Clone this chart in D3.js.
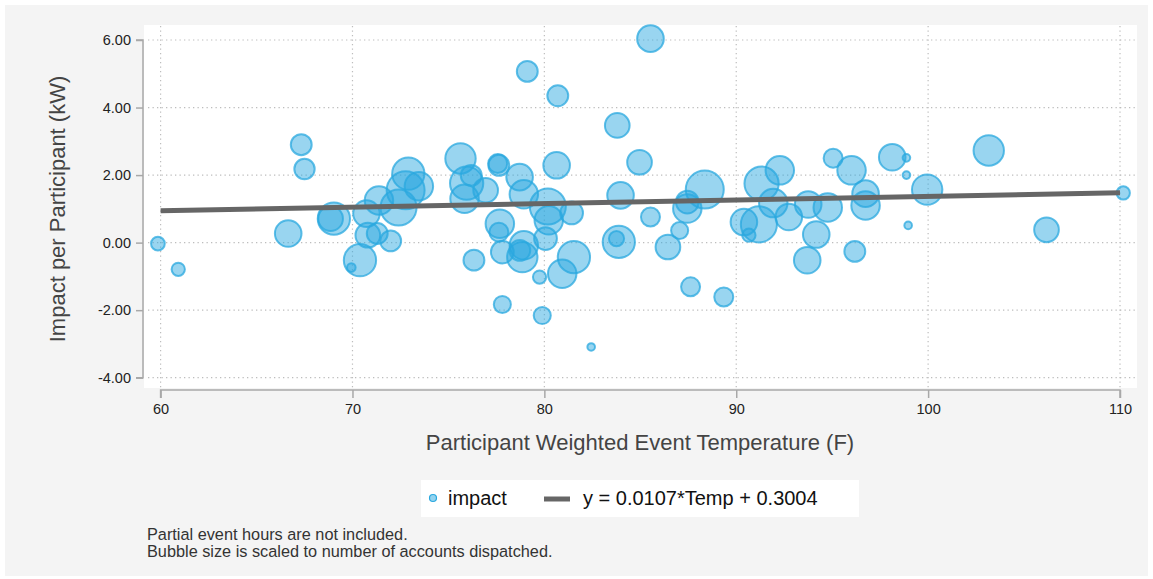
<!DOCTYPE html>
<html>
<head>
<meta charset="utf-8">
<script src="https://cdn.jsdelivr.net/npm/d3@7/dist/d3.min.js"></script>
<style>
  html, body { margin: 0; padding: 0; background: #ffffff; }
  svg { display: block; font-family: "Liberation Sans", Arial, sans-serif; }
</style>
</head>
<body>
<svg id="chart" width="1153" height="579"></svg>
<script>
// ---- data ----
const temps = [59.86, 60.92, 66.65, 67.33, 67.50, 69.03, 68.86, 70.73, 70.80, 71.29,
  71.99, 70.39, 69.94, 71.38, 72.77, 72.40, 72.91, 73.46, 75.63, 75.95,
  76.19, 75.84, 76.94, 77.63, 77.57, 78.71, 78.93, 80.64, 80.18, 81.42,
  80.23, 80.06, 77.68, 77.63, 77.81, 78.93, 78.85, 78.72, 76.33, 81.54,
  80.93, 79.75, 77.81, 79.89, 82.44, 79.11, 80.70, 85.53, 83.80, 84.96,
  83.97, 85.53, 88.36, 87.45, 87.45, 87.05, 83.88, 83.76, 86.44, 87.62,
  89.35, 91.32, 92.27, 91.93, 90.40, 91.18, 90.66, 92.74, 93.75, 94.77,
  94.17, 93.70, 95.05, 96.01, 96.74, 96.74, 96.18, 98.13, 98.87, 98.87,
  98.96, 99.95, 103.16, 106.17, 110.17];
const impacts = [-0.03, -0.79, 0.27, 2.90, 2.18, 0.71, 0.71, 0.86, 0.22, 0.27,
  0.05, -0.52, -0.74, 1.25, 1.55, 1.04, 2.04, 1.67, 2.49, 1.76,
  1.99, 1.30, 1.55, 2.29, 2.34, 1.94, 1.43, 2.29, 1.07, 0.88,
  0.66, 0.12, 0.56, 0.31, -0.28, -0.08, -0.43, -0.23, -0.52, -0.43,
  -0.92, -1.02, -1.83, -2.16, -3.09, 5.07, 4.35, 6.04, 3.47, 2.38,
  1.40, 0.76, 1.57, 1.20, 1.01, 0.36, 0.02, 0.12, -0.13, -1.31,
  -1.61, 1.75, 2.14, 1.17, 0.61, 0.54, 0.22, 0.76, 1.13, 1.04,
  0.24, -0.52, 2.50, 2.14, 1.45, 1.10, -0.26, 2.53, 2.51, 2.00,
  0.51, 1.57, 2.73, 0.38, 1.47];
const accounts = [130, 122, 490, 302, 286, 722, 422, 490, 422, 302,
  302, 722, 51, 562, 1000, 902, 722, 562, 640, 766,
  302, 562, 422, 302, 250, 490, 562, 490, 902, 360,
  562, 360, 562, 250, 360, 562, 640, 302, 302, 722,
  562, 122, 202, 202, 40, 302, 302, 490, 422, 422,
  490, 250, 1000, 360, 562, 202, 722, 160, 422, 250,
  250, 810, 562, 562, 490, 902, 122, 490, 490, 562,
  490, 490, 250, 562, 490, 562, 302, 490, 40, 40,
  40, 640, 640, 422, 122];
const xTicks = [60, 70, 80, 90, 100, 110];
const yTicks = [-4, -2, 0, 2, 4, 6];
const slope = 0.0107, intercept = 0.3004;
const legendLabels = ["impact", "y = 0.0107*Temp + 0.3004"];
const notes = ["Partial event hours are not included.",
  "Bubble size is scaled to number of accounts dispatched."];

const points = temps.map((t, i) => ({ t, v: impacts[i], n: accounts[i] }));

// ---- layout ----
const svg = d3.select("#chart");
const x = d3.scaleLinear().domain([60, 110]).range([160.6, 1120]);
const y = d3.scaleLinear().domain([-4, 6]).range([377.7, 40]);
const r = d3.scaleSqrt().domain([0, 1000]).range([0, 19]);

const blue = "#29a8df";
const fmtY = d => d3.format(".2f")(d).replace("\u2212", "-");

// outer panel
svg.append("rect").attr("x", 5).attr("y", 5).attr("width", 1143).attr("height", 571)
  .attr("fill", "#f4f4f4");
// plot region
svg.append("rect").attr("x", 144).attr("y", 25).attr("width", 993).attr("height", 363)
  .attr("fill", "#ffffff");

// grid
const grid = svg.append("g").attr("stroke", "#bdbdbd").attr("stroke-width", 1.2)
  .attr("stroke-dasharray", "1.3,3.2");
grid.selectAll("line.h").data(yTicks).join("line")
  .attr("x1", 148).attr("x2", 1135)
  .attr("y1", d => y(d)).attr("y2", d => y(d));
grid.selectAll("line.v").data(xTicks).join("line")
  .attr("x1", d => x(d)).attr("x2", d => x(d))
  .attr("y1", 26).attr("y2", 388);

// axes
const yAxis = svg.append("g").attr("transform", "translate(143,0)")
  .call(d3.axisLeft(y).tickValues(yTicks).tickFormat(fmtY).tickSize(7).tickPadding(5));
const xAxis = svg.append("g").attr("transform", "translate(0,390)")
  .call(d3.axisBottom(x).tickValues(xTicks).tickFormat(d3.format("d")).tickSize(8).tickPadding(6));
[yAxis, xAxis].forEach(g => {
  g.select(".domain").attr("stroke", "#a8a8a8").attr("stroke-width", 1.5);
  g.selectAll(".tick line").attr("stroke", "#a8a8a8").attr("stroke-width", 1.5);
  g.selectAll(".tick text").attr("fill", "#222").style("font-size", "14.5px")
    .style("font-family", "'Liberation Sans', Arial, sans-serif");
});
yAxis.select(".domain").attr("d", `M-7,${y(6)}H0V${y(-4)}H-7`);
xAxis.select(".domain").attr("d", `M${x(60)},8V0H${x(110)}V8`);

// bubbles
svg.append("g").selectAll("circle").data(points).join("circle")
  .attr("cx", d => x(d.t)).attr("cy", d => y(d.v)).attr("r", d => r(d.n))
  .attr("fill", blue).attr("fill-opacity", 0.48)
  .attr("stroke", blue).attr("stroke-opacity", 0.75).attr("stroke-width", 2);

// fit line
svg.append("line")
  .attr("x1", x(60)).attr("y1", y(slope * 60 + intercept))
  .attr("x2", x(110)).attr("y2", y(slope * 110 + intercept))
  .attr("stroke", "#666666").attr("stroke-width", 5);

// axis titles
svg.append("text").attr("x", 640).attr("y", 450).attr("text-anchor", "middle")
  .attr("fill", "#444").style("font-size", "22px").text("Participant Weighted Event Temperature (F)");
svg.append("text").attr("transform", "translate(65,209) rotate(-90)").attr("text-anchor", "middle")
  .attr("fill", "#444").style("font-size", "22px").text("Impact per Participant (kW)");

// legend
const lg = svg.append("g");
lg.append("rect").attr("x", 421).attr("y", 480).attr("width", 438).attr("height", 37).attr("fill", "#fff");
lg.append("circle").attr("cx", 433).attr("cy", 498).attr("r", 3.5)
  .attr("fill", blue).attr("fill-opacity", 0.5).attr("stroke", blue).attr("stroke-width", 1.2);
lg.append("text").attr("x", 448).attr("y", 505).attr("fill", "#111").style("font-size", "20px").text(legendLabels[0]);
lg.append("line").attr("x1", 544).attr("x2", 570).attr("y1", 499).attr("y2", 499)
  .attr("stroke", "#666").attr("stroke-width", 5);
lg.append("text").attr("x", 583).attr("y", 505).attr("fill", "#111").style("font-size", "20px").text(legendLabels[1]);

// notes
svg.append("g").selectAll("text").data(notes).join("text")
  .attr("x", 147).attr("y", (d, i) => 540 + i * 16.5)
  .attr("fill", "#333").style("font-size", "16.3px").text(d => d);
</script>
</body>
</html>
